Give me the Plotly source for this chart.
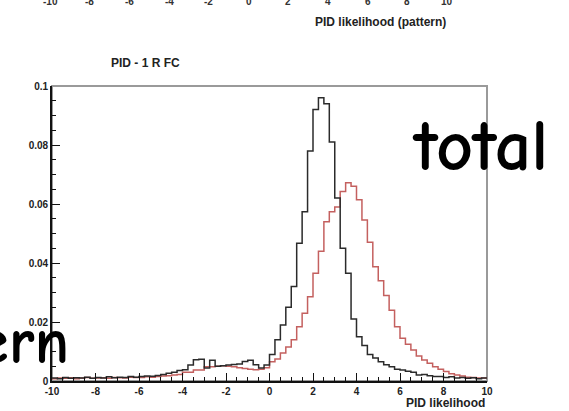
import plotly.graph_objects as go

# ---- data -------------------------------------------------------------
bin_edges = [-10 + 0.25 * i for i in range(81)]

black_vals = [
    0.0010, 0.0008, 0.0012, 0.0009, 0.0011, 0.0010, 0.0013, 0.0009,   # -10..-8
    0.0012, 0.0010, 0.0014, 0.0011, 0.0013, 0.0012, 0.0015, 0.0013,   # -8..-6
    0.0015, 0.0017, 0.0016, 0.0019, 0.0022, 0.0026, 0.0030, 0.0036,   # -6..-4
    0.0038, 0.0054, 0.0072, 0.0074, 0.0044, 0.0070, 0.0050, 0.0052,   # -4..-2
    0.0054, 0.0056, 0.0058, 0.0066, 0.0070, 0.0055, 0.0044, 0.0054,   # -2..0
    0.0090, 0.0140, 0.0190, 0.0250, 0.0320, 0.0467, 0.0574, 0.0780,   # 0..2
    0.0920, 0.0960, 0.0940, 0.0810, 0.0620, 0.0450, 0.0365, 0.0210,   # 2..4
    0.0150, 0.0120, 0.0090, 0.0078, 0.0065, 0.0055, 0.0048, 0.0040,   # 4..6
    0.0037, 0.0033, 0.0030, 0.0020, 0.0022, 0.0018, 0.0015, 0.0015,   # 6..8
    0.0012, 0.0014, 0.0010, 0.0012, 0.0009, 0.0011, 0.0008, 0.0010,   # 8..10
]

red_vals = [
    0.0008, 0.0010, 0.0009, 0.0011, 0.0008, 0.0010, 0.0012, 0.0009,
    0.0010, 0.0011, 0.0009, 0.0012, 0.0011, 0.0010, 0.0013, 0.0012,
    0.0012, 0.0014, 0.0013, 0.0015, 0.0017, 0.0018, 0.0020, 0.0022,
    0.0030, 0.0030, 0.0037, 0.0037, 0.0048, 0.0048, 0.0050, 0.0052,
    0.0050, 0.0048, 0.0045, 0.0042, 0.0040, 0.0038, 0.0040, 0.0045,
    0.0065, 0.0075, 0.0095, 0.0115, 0.0140, 0.0184, 0.0230, 0.0286,
    0.0365, 0.0440, 0.0540, 0.0574, 0.0590, 0.0642, 0.0672, 0.0660,
    0.0614, 0.0546, 0.0470, 0.0387, 0.0340, 0.0290, 0.0240, 0.0184,
    0.0145, 0.0125, 0.0105, 0.0085, 0.0071, 0.0060, 0.0048, 0.0040,
    0.0032, 0.0025, 0.0020, 0.0017, 0.0013, 0.0012, 0.0010, 0.0010,
]

x_tick_vals = [-10, -8, -6, -4, -2, 0, 2, 4, 6, 8, 10]
x_tick_text = ["-10", "-8", "-6", "-4", "-2", "0", "2", "4", "6", "8", "10"]
y_tick_vals = [0, 0.02, 0.04, 0.06, 0.08, 0.1]
y_tick_text = ["0", "0.02", "0.04", "0.06", "0.08", "0.1"]

# ---- figure -----------------------------------------------------------
W, H = 569, 411
L, R, T, B = 52, 82, 86, 30
pw, ph = W - L - R, H - T - B


def px_x(px):
    return (px - L) / pw


def px_y(py):
    return (H - B - py) / ph


fig = go.Figure()

for vals, col in [(red_vals, "#c4605f"), (black_vals, "#2b2b2b")]:
    fig.add_trace(go.Scatter(
        x=bin_edges,
        y=vals + [vals[-1]],
        mode="lines",
        line=dict(shape="hv", color=col, width=1.5),
        showlegend=False,
        hoverinfo="skip",
    ))

tick_font = dict(family="Liberation Sans, Arial, sans-serif", size=10, color="#222",
                 weight="bold")

fig.update_layout(
    width=W, height=H,
    margin=dict(l=L, r=R, t=T, b=B, pad=0),
    paper_bgcolor="white",
    plot_bgcolor="white",
    xaxis=dict(
        range=[-10, 10], showgrid=False, zeroline=False,
        tickmode="array", tickvals=x_tick_vals, ticktext=x_tick_text,
        ticks="inside", ticklen=8, tickwidth=1.2, tickcolor="#111",
        minor=dict(dtick=0.5, ticks="inside", ticklen=4, tickwidth=1, tickcolor="#111"),
        showline=True, linecolor="#111", linewidth=1.6,
        tickfont=tick_font,
    ),
    yaxis=dict(
        range=[0, 0.1], showgrid=False, zeroline=False,
        tickmode="array", tickvals=y_tick_vals, ticktext=y_tick_text,
        ticks="inside", ticklen=8, tickwidth=1.2, tickcolor="#111",
        minor=dict(dtick=0.005, ticks="inside", ticklen=4, tickwidth=1, tickcolor="#111"),
        showline=True, linecolor="#111", linewidth=1.6,
        tickfont=tick_font,
    ),
    shapes=[
        dict(type="rect", xref="paper", yref="paper", x0=0, x1=1, y0=0, y1=1,
             line=dict(color="#9a9a9a", width=2), layer="below"),
    ],
)

label_font = dict(family="Liberation Sans, Arial, sans-serif", size=12, color="#222",
                  weight="bold")
big_font = dict(family="Comic Neue, Comic Sans MS, Lato, sans-serif", size=72, color="black",
                weight="bold")
big_font2 = dict(family="Comic Neue, Comic Sans MS, Lato, sans-serif", size=64, color="black",
                 weight="bold")

annotations = [
    dict(text="PID likelihood", x=1.0, xanchor="right", y=px_y(403), yanchor="middle",
         font=label_font),
    dict(text="PID - 1 R FC", x=px_x(145), xanchor="center", y=px_y(63), yanchor="middle",
         font=label_font),
    dict(text="PID likelihood (pattern)", x=px_x(380), xanchor="center", y=px_y(22),
         yanchor="middle", font=label_font),
    dict(text="total", x=px_x(480), xanchor="center", y=px_y(146), yanchor="middle",
         font=big_font),
    dict(text="pattern", x=px_x(71), xanchor="right", y=px_y(342), yanchor="middle",
         font=big_font2),
]
# cut-off tick labels of the previous plot above
for v, t in zip(x_tick_vals, x_tick_text):
    annotations.append(dict(
        text=t, x=px_x(50 + (v + 10) * 19.85), xanchor="center",
        y=px_y(1), yanchor="middle",
        font=dict(family="Liberation Sans, Arial, sans-serif", size=10, color="#333",
                  weight="bold"),
    ))

for a in annotations:
    a.update(xref="paper", yref="paper", showarrow=False)
fig.update_layout(annotations=annotations)

fig.write_html("out.html")
